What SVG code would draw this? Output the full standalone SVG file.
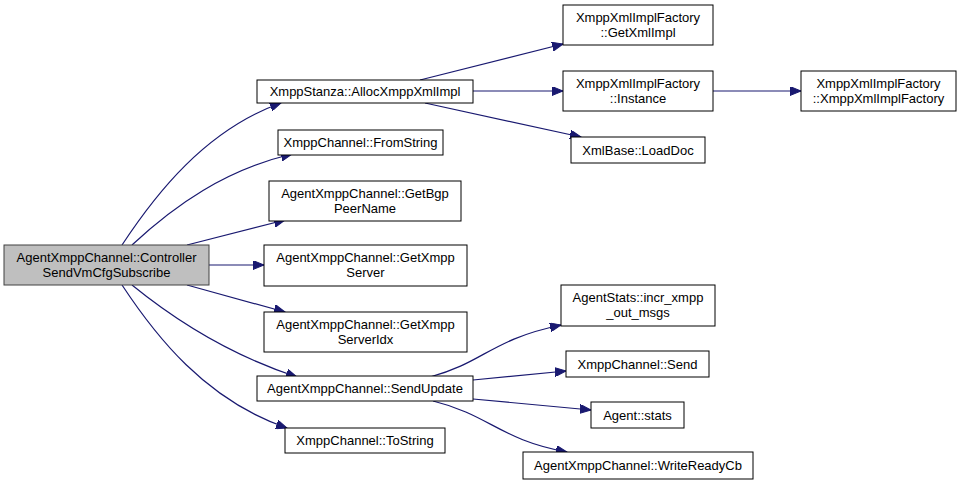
<svg xmlns="http://www.w3.org/2000/svg" width="964" height="485" viewBox="0 0 964 485">
<style>
.n rect{fill:#fff;stroke:#000;stroke-width:1}
.n.root rect{fill:#bfbfbf;stroke:#404040}
.n text{font-family:"Liberation Sans",Arial,sans-serif;font-size:13px;fill:#000;text-anchor:middle}
.e path{fill:none;stroke:#191970;stroke-width:1.2;marker-end:url(#ah)}
</style>
<defs>
<marker id="ah" markerUnits="userSpaceOnUse" markerWidth="12" markerHeight="9" refX="11" refY="4.5" orient="auto">
<path d="M0,0 L11,4.5 L0,9 z" fill="#191970" stroke="#191970" stroke-width="1"/>
</marker>
</defs>
<rect width="964" height="485" fill="#fff"/>
<g id="edges" class="e">
<path d="M122,245 C155,195 205,130 281,103"/>
<path d="M132,245 C175,205 225,170 292,154"/>
<path d="M187,245 L285,220"/>
<path d="M209,265 L264,265"/>
<path d="M187,285 L285,312"/>
<path d="M132,285 C175,320 230,355 297,377"/>
<path d="M122,285 C155,335 205,400 287,428"/>
<path d="M420,80 L563,44"/>
<path d="M473,91 L563,91"/>
<path d="M425,103 L581,137"/>
<path d="M713,91 L801,91"/>
<path d="M430,377 C485,362 490,340 561,325"/>
<path d="M473,380 L566,371"/>
<path d="M473,399 L591,410"/>
<path d="M433,401 C490,415 500,440 567,452"/>
</g>
<g id="root" class="n root"><rect x="4" y="245" width="205" height="40"/><text x="106.5" y="262">AgentXmppChannel::Controller</text><text x="106.5" y="277">SendVmCfgSubscribe</text></g>
<g id="alloc" class="n"><rect x="257" y="80" width="216" height="23"/><text x="365" y="96">XmppStanza::AllocXmppXmlImpl</text></g>
<g id="fromstring" class="n"><rect x="278" y="130" width="165" height="25"/><text x="360.5" y="147">XmppChannel::FromString</text></g>
<g id="getbgp" class="n"><rect x="269" y="181" width="192" height="40"/><text x="365" y="198">AgentXmppChannel::GetBgp</text><text x="365" y="213">PeerName</text></g>
<g id="getserver" class="n"><rect x="264" y="245" width="203" height="41"/><text x="365.5" y="262">AgentXmppChannel::GetXmpp</text><text x="365.5" y="277">Server</text></g>
<g id="getserveridx" class="n"><rect x="264" y="312" width="203" height="40"/><text x="365.5" y="329">AgentXmppChannel::GetXmpp</text><text x="365.5" y="344">ServerIdx</text></g>
<g id="sendupdate" class="n"><rect x="257" y="376" width="216" height="25"/><text x="365" y="393">AgentXmppChannel::SendUpdate</text></g>
<g id="tostring" class="n"><rect x="285" y="428" width="160" height="25"/><text x="365" y="445">XmppChannel::ToString</text></g>
<g id="getxmlimpl" class="n"><rect x="563" y="5" width="150" height="40"/><text x="638" y="22">XmppXmlImplFactory</text><text x="638" y="37">::GetXmlImpl</text></g>
<g id="instance" class="n"><rect x="563" y="71" width="150" height="40"/><text x="638" y="88">XmppXmlImplFactory</text><text x="638" y="103">::Instance</text></g>
<g id="loaddoc" class="n"><rect x="571" y="137" width="134" height="26"/><text x="638" y="154.5">XmlBase::LoadDoc</text></g>
<g id="ctor" class="n"><rect x="801" y="71" width="155" height="40"/><text x="878.5" y="88">XmppXmlImplFactory</text><text x="878.5" y="103">::XmppXmlImplFactory</text></g>
<g id="incr" class="n"><rect x="561" y="285" width="154" height="41"/><text x="638" y="302">AgentStats::incr_xmpp</text><text x="638" y="317">_out_msgs</text></g>
<g id="send" class="n"><rect x="566" y="351" width="143" height="26"/><text x="637.5" y="368.5">XmppChannel::Send</text></g>
<g id="stats" class="n"><rect x="591" y="402" width="93" height="26"/><text x="637.5" y="419.5">Agent::stats</text></g>
<g id="writeready" class="n"><rect x="523" y="452" width="230" height="27"/><text x="638" y="470">AgentXmppChannel::WriteReadyCb</text></g>
</svg>
